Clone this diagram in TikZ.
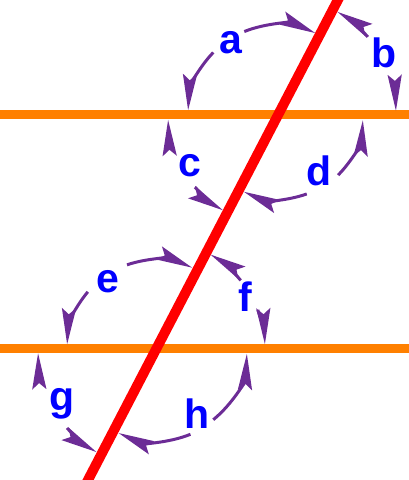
\documentclass[tikz,border=0pt]{standalone}
\usepackage{fontspec}
\setmainfont{Liberation Sans}
\usetikzlibrary{arrows.meta,calc}
\definecolor{arcpurple}{RGB}{108,44,150}
\definecolor{lineorange}{RGB}{255,128,0}
\definecolor{labelblue}{RGB}{0,0,255}
\tikzset{
  transversal/.style={line width=10pt, red},
  parallel/.style={line width=9pt, lineorange},
  anglearrow/.style={draw=arcpurple, line width=3pt, arrows={-Stealth[length=36pt,width=14pt,inset=6pt]}},
  lbl/.style={text=labelblue, font=\fontsize{41}{41}\selectfont\bfseries, inner sep=0pt}}
\begin{document}
\begin{tikzpicture}[x=1pt,y=1pt]
\useasboundingbox (0,0) rectangle (409,480);
% intersections
\coordinate (P1) at (278,365);
\coordinate (P2) at (156,131);
\coordinate (L1) at (-2,365); \coordinate (R1) at (411,365);
\coordinate (L2) at (-2,131); \coordinate (R2) at (411,131);
\coordinate (T) at ($(P1)+(62.5:140)$);
\coordinate (B) at ($(P1)+(242.5:425)$);
% parallel lines and transversal
\draw[parallel] (L1) -- (R1);
\draw[parallel] (L2) -- (R2);
\draw[transversal] (T) -- (B);
% labels
\node[lbl] (a) at (231,437) {a};
\node[lbl] (b) at (384,427) {b};
\node[lbl] (c) at (190,314) {c};
\node[lbl] (d) at (319,309) {d};
\node[lbl] (e) at (108,198) {e};
\node[lbl] (f) at (245,183) {f};
\node[lbl] (g) at (62,76) {g};
\node[lbl] (h) at (197,66) {h};
% angle arrows, top intersection
\draw[anglearrow] ($(P1)+(112:90)$) arc[start angle=112, end angle=65.5, radius=90];
\draw[anglearrow] ($(P1)+(136:90)$) arc[start angle=136, end angle=177, radius=90];
\draw[anglearrow] ($(P1)+(41:119)$) arc[start angle=41, end angle=60, radius=119];
\draw[anglearrow] ($(P1)+(17:118)$) arc[start angle=17, end angle=2, radius=118];
\draw[anglearrow] ($(P1)+(195:110)$) arc[start angle=195, end angle=182.5, radius=110];
\draw[anglearrow] ($(P1)+(221:110)$) arc[start angle=221, end angle=240, radius=110];
\draw[anglearrow] ($(P1)+(-45:85)$) arc[start angle=-45, end angle=-3.5, radius=85];
\draw[anglearrow] ($(P1)+(-70:84)$) arc[start angle=-70, end angle=-114, radius=84];
% angle arrows, bottom intersection
\draw[anglearrow] ($(P2)+(109:89)$) arc[start angle=109, end angle=66, radius=89];
\draw[anglearrow] ($(P2)+(140:89)$) arc[start angle=140, end angle=177, radius=89];
\draw[anglearrow] ($(P2)+(39:109)$) arc[start angle=39, end angle=60, radius=109];
\draw[anglearrow] ($(P2)+(21:109)$) arc[start angle=21, end angle=2.5, radius=109];
\draw[anglearrow] ($(P2)+(197.7:118)$) arc[start angle=197.7, end angle=182, radius=118];
\draw[anglearrow] ($(P2)+(221.6:119)$) arc[start angle=221.6, end angle=240, radius=119];
\draw[anglearrow] ($(P2)+(-51:91)$) arc[start angle=-51, end angle=-3, radius=91];
\draw[anglearrow] ($(P2)+(-68:92)$) arc[start angle=-68, end angle=-114, radius=92];
\end{tikzpicture}
\end{document}
